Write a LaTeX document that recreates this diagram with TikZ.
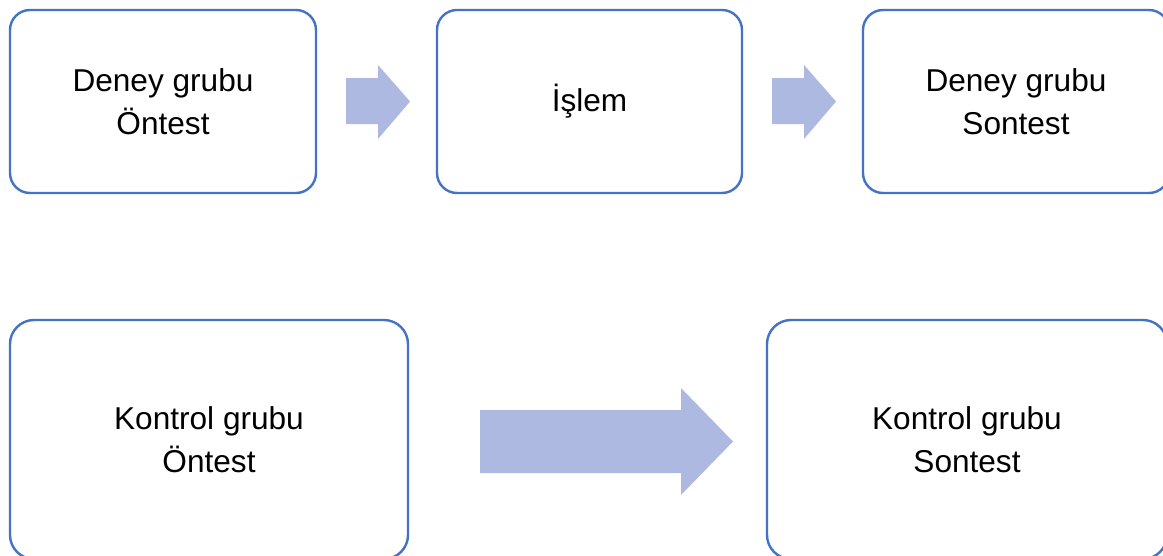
\documentclass[tikz,border=0pt]{standalone}
\usepackage{fontspec}
\setmainfont{Liberation Sans}
\definecolor{boxline}{RGB}{68,114,196}
\definecolor{arrowfill}{RGB}{173,185,224}
\begin{document}
\begin{tikzpicture}[x=1pt,y=-1pt,
  stagebox/.style={draw=boxline, line width=2.4pt, fill=white, rectangle,
    rounded corners=20pt, align=center, inner sep=0pt,
    font=\fontsize{31.6}{43}\selectfont},
  blockarrow/.style={fill=arrowfill, draw=none}]
\useasboundingbox (0,0) rectangle (1163,555);
\clip (0,0) rectangle (1163,555);
\fill[white] (0,0) rectangle (1163,555);

% upper row: experimental group
\node[stagebox, minimum width=306pt, minimum height=183pt] (dOn) at (163,101.5) {Deney grubu\\Öntest};
\node[stagebox, minimum width=305pt, minimum height=183pt] (islem) at (589.5,101.5) {İşlem};
\node[stagebox, minimum width=306pt, minimum height=183pt] (dSon) at (1016,101.5) {Deney grubu\\Sontest};

% lower row: control group
\node[stagebox, rounded corners=24pt, minimum width=398pt, minimum height=239pt] (kOn) at (209,439.5) {Kontrol grubu\\Öntest};
\node[stagebox, rounded corners=24pt, minimum width=400pt, minimum height=239pt] (kSon) at (967,439.5) {Kontrol grubu\\Sontest};

% block arrows between the stages
\fill[blockarrow] (346,78) -- (378,78) -- (378,65) -- (410,101.5) -- (378,139) -- (378,124) -- (346,124) -- cycle;
\fill[blockarrow] (772,78) -- (804,78) -- (804,65) -- (836,101.5) -- (804,139) -- (804,124) -- (772,124) -- cycle;
\fill[blockarrow] (480,410) -- (681,410) -- (681,388) -- (733,441.5) -- (681,495) -- (681,473) -- (480,473) -- cycle;
\end{tikzpicture}
\end{document}
